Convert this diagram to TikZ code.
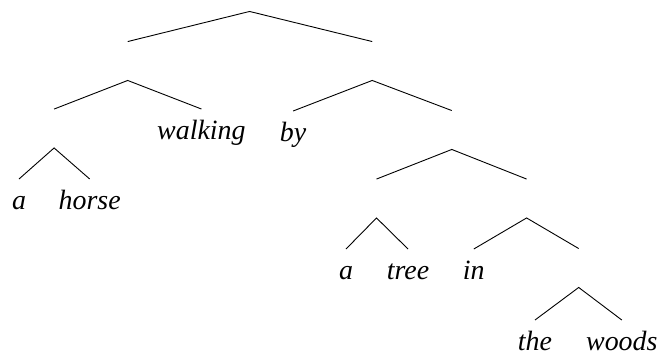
\documentclass[tikz,border=0pt]{standalone}
\usepackage{fontspec}
\setmainfont{Liberation Serif}
\usepackage{tikz}

\begin{document}
\begin{tikzpicture}[x=1bp, y=-1bp, line width=0.9bp,
        cat/.style={inner sep=0pt, minimum width=0pt, minimum height=38bp},
        word/.style={anchor=north, inner xsep=0pt, inner ysep=9bp, text height=21bp, text depth=6bp,
            font=\fontsize{28}{30}\selectfont\itshape}]
    \useasboundingbox (0,0) rectangle (660,358);
    % phrase nodes (empty), apex at south, top of branch at north
    \node[cat] (s) at (249.6,-8) {};
    \node[cat] (l) at (127.7,61) {};
    \node[cat] (r) at (372.2,61) {};
    \node[cat] (np1) at (54.1,128.5) {};
    \node[cat] (pp) at (451.8,130) {};
    \node[cat] (np2) at (376.5,198.5) {};
    \node[cat] (pp2) at (526.6,198.5) {};
    \node[cat] (np3) at (578.7,268) {};
    % words
    \node[word] (w1) at (19,179) {a};
    \node[word] (w2) at (89.7,179) {horse};
    \node[word] (w3) at (201.4,109) {walking};
    \node[word] (w4) at (293.1,111) {by};
    \node[word] (w5) at (346,249) {a};
    \node[word] (w6) at (408,249) {tree};
    \node[word] (w7) at (473.8,249) {in};
    \node[word] (w8) at (535,320) {the};
    \node[word] (w9) at (621.8,320) {woods};
    % branches
    \draw (l.north) -- (s.south) -- (r.north);
    \draw (np1.north) -- (l.south) -- (w3.north);
    \draw (w4.north) -- (r.south) -- (pp.north);
    \draw (w1.north) -- (np1.south) -- (w2.north);
    \draw (np2.north) -- (pp.south) -- (pp2.north);
    \draw (w5.north) -- (np2.south) -- (w6.north);
    \draw (w7.north) -- (pp2.south) -- (np3.north);
    \draw (w8.north) -- (np3.south) -- (w9.north);
\end{tikzpicture}
\end{document}
